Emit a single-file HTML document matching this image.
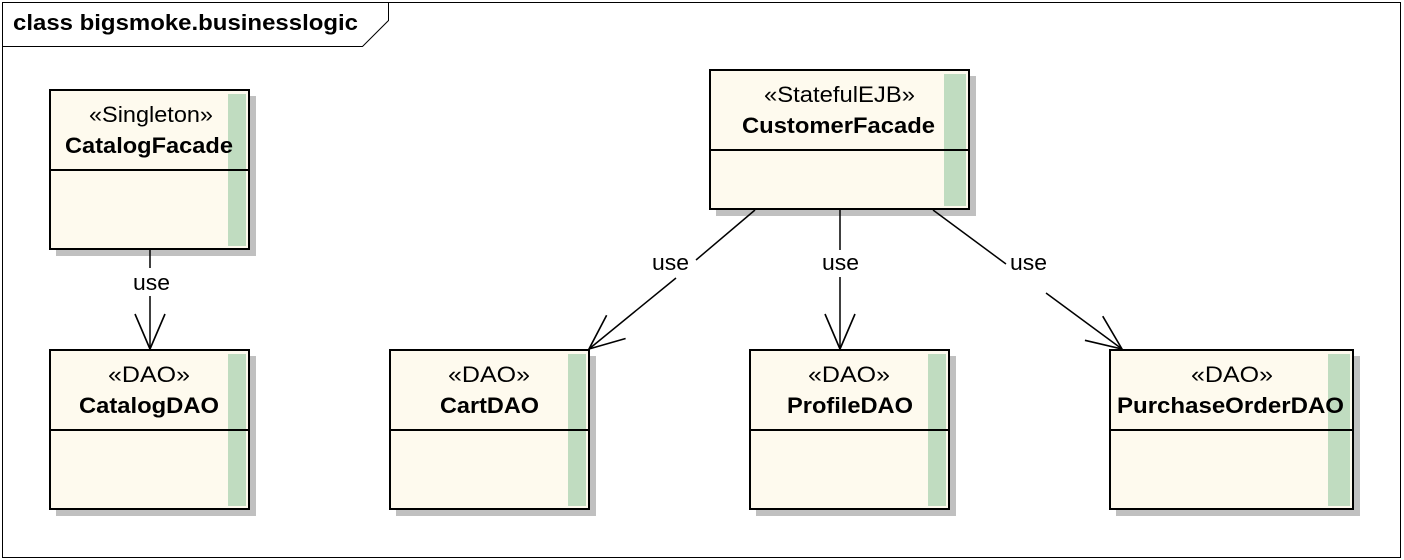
<!DOCTYPE html>
<html><head><meta charset="utf-8"><style>
html,body{margin:0;padding:0;background:#fff;}
svg{display:block;}
text{font-family:"Liberation Sans",Arial,sans-serif;fill:#000;}
.st{font-size:22px;}
.nm{font-size:22px;font-weight:bold;}
.lb{font-size:22px;}
</style></head><body>
<svg width="1404" height="560" viewBox="0 0 1404 560" xmlns="http://www.w3.org/2000/svg">
<defs>
<marker id="ar" markerUnits="userSpaceOnUse" markerWidth="40" markerHeight="40" viewBox="-30 -15 32 30" refX="0" refY="0" orient="auto">
<path d="M-28,-12 L0,0 L-28,12" fill="none" stroke="#000" stroke-width="1.3"/>
</marker>
</defs>
<rect x="2.5" y="2.5" width="1398" height="555" fill="#fff" stroke="#000" stroke-width="1"/>
<path d="M2.5,46.5 H362.5 L388.5,20.5 V2.5" fill="none" stroke="#000" stroke-width="1"/>
<text x="13" y="30" style="font-size:22px;font-weight:bold" textLength="345" lengthAdjust="spacingAndGlyphs">class bigsmoke.businesslogic</text>

<!-- boxes -->
<g>
<rect x="56" y="96" width="200" height="160" fill="#c0c0c0"/>
<rect x="50" y="90" width="199" height="159" fill="#fefaee" stroke="#000" stroke-width="2"/>
<rect x="228" y="94" width="18" height="152" fill="#c0dcc0"/>
<line x1="50" y1="170" x2="249" y2="170" stroke="#000" stroke-width="2"/>
<text class="st" x="89" y="122" textLength="124" lengthAdjust="spacingAndGlyphs">«Singleton»</text>
<text class="nm" x="65" y="153" textLength="168" lengthAdjust="spacingAndGlyphs">CatalogFacade</text>

<rect x="56" y="356" width="200" height="160" fill="#c0c0c0"/>
<rect x="50" y="350" width="199" height="159" fill="#fefaee" stroke="#000" stroke-width="2"/>
<rect x="228" y="354" width="18" height="152" fill="#c0dcc0"/>
<line x1="50" y1="430" x2="249" y2="430" stroke="#000" stroke-width="2"/>
<text class="st" x="108" y="382" textLength="82" lengthAdjust="spacingAndGlyphs">«DAO»</text>
<text class="nm" x="79" y="413" textLength="140" lengthAdjust="spacingAndGlyphs">CatalogDAO</text>

<rect x="396" y="356" width="200" height="160" fill="#c0c0c0"/>
<rect x="390" y="350" width="199" height="159" fill="#fefaee" stroke="#000" stroke-width="2"/>
<rect x="568" y="354" width="18" height="152" fill="#c0dcc0"/>
<line x1="390" y1="430" x2="589" y2="430" stroke="#000" stroke-width="2"/>
<text class="st" x="448" y="382" textLength="82" lengthAdjust="spacingAndGlyphs">«DAO»</text>
<text class="nm" x="440" y="413" textLength="99" lengthAdjust="spacingAndGlyphs">CartDAO</text>

<rect x="756" y="356" width="200" height="160" fill="#c0c0c0"/>
<rect x="750" y="350" width="199" height="159" fill="#fefaee" stroke="#000" stroke-width="2"/>
<rect x="928" y="354" width="18" height="152" fill="#c0dcc0"/>
<line x1="750" y1="430" x2="949" y2="430" stroke="#000" stroke-width="2"/>
<text class="st" x="808" y="382" textLength="82" lengthAdjust="spacingAndGlyphs">«DAO»</text>
<text class="nm" x="787" y="413" textLength="126" lengthAdjust="spacingAndGlyphs">ProfileDAO</text>

<rect x="1116" y="356" width="244" height="160" fill="#c0c0c0"/>
<rect x="1110" y="350" width="243" height="159" fill="#fefaee" stroke="#000" stroke-width="2"/>
<rect x="1328" y="354" width="22" height="152" fill="#c0dcc0"/>
<line x1="1110" y1="430" x2="1353" y2="430" stroke="#000" stroke-width="2"/>
<text class="st" x="1191" y="382" textLength="82" lengthAdjust="spacingAndGlyphs">«DAO»</text>
<text class="nm" x="1117" y="413" textLength="227" lengthAdjust="spacingAndGlyphs">PurchaseOrderDAO</text>

<rect x="716" y="76" width="260" height="140" fill="#c0c0c0"/>
<rect x="710" y="70" width="259" height="139" fill="#fefaee" stroke="#000" stroke-width="2"/>
<rect x="944" y="74" width="22" height="132" fill="#c0dcc0"/>
<line x1="710" y1="150" x2="969" y2="150" stroke="#000" stroke-width="2"/>
<text class="st" x="764" y="102" textLength="151" lengthAdjust="spacingAndGlyphs">«StatefulEJB»</text>
<text class="nm" x="742" y="133" textLength="193" lengthAdjust="spacingAndGlyphs">CustomerFacade</text>
</g>

<!-- connectors -->
<g stroke="#000" stroke-width="1.5" fill="none">
<line x1="150" y1="250" x2="150" y2="268"/>
<line x1="150" y1="296" x2="150" y2="349" marker-end="url(#ar)"/>
<line x1="755" y1="210" x2="696" y2="260"/>
<line x1="676" y1="278" x2="589" y2="349" marker-end="url(#ar)"/>
<line x1="840" y1="210" x2="840" y2="250"/>
<line x1="840" y1="277" x2="840" y2="349" marker-end="url(#ar)"/>
<line x1="933" y1="210" x2="1006" y2="264"/>
<line x1="1046" y1="293" x2="1122" y2="349" marker-end="url(#ar)"/>
</g>
<text class="lb" x="133" y="290" textLength="37" lengthAdjust="spacingAndGlyphs">use</text>
<text class="lb" x="652" y="270" textLength="37" lengthAdjust="spacingAndGlyphs">use</text>
<text class="lb" x="822" y="270" textLength="37" lengthAdjust="spacingAndGlyphs">use</text>
<text class="lb" x="1010" y="270" textLength="37" lengthAdjust="spacingAndGlyphs">use</text>
</svg>
</body></html>
